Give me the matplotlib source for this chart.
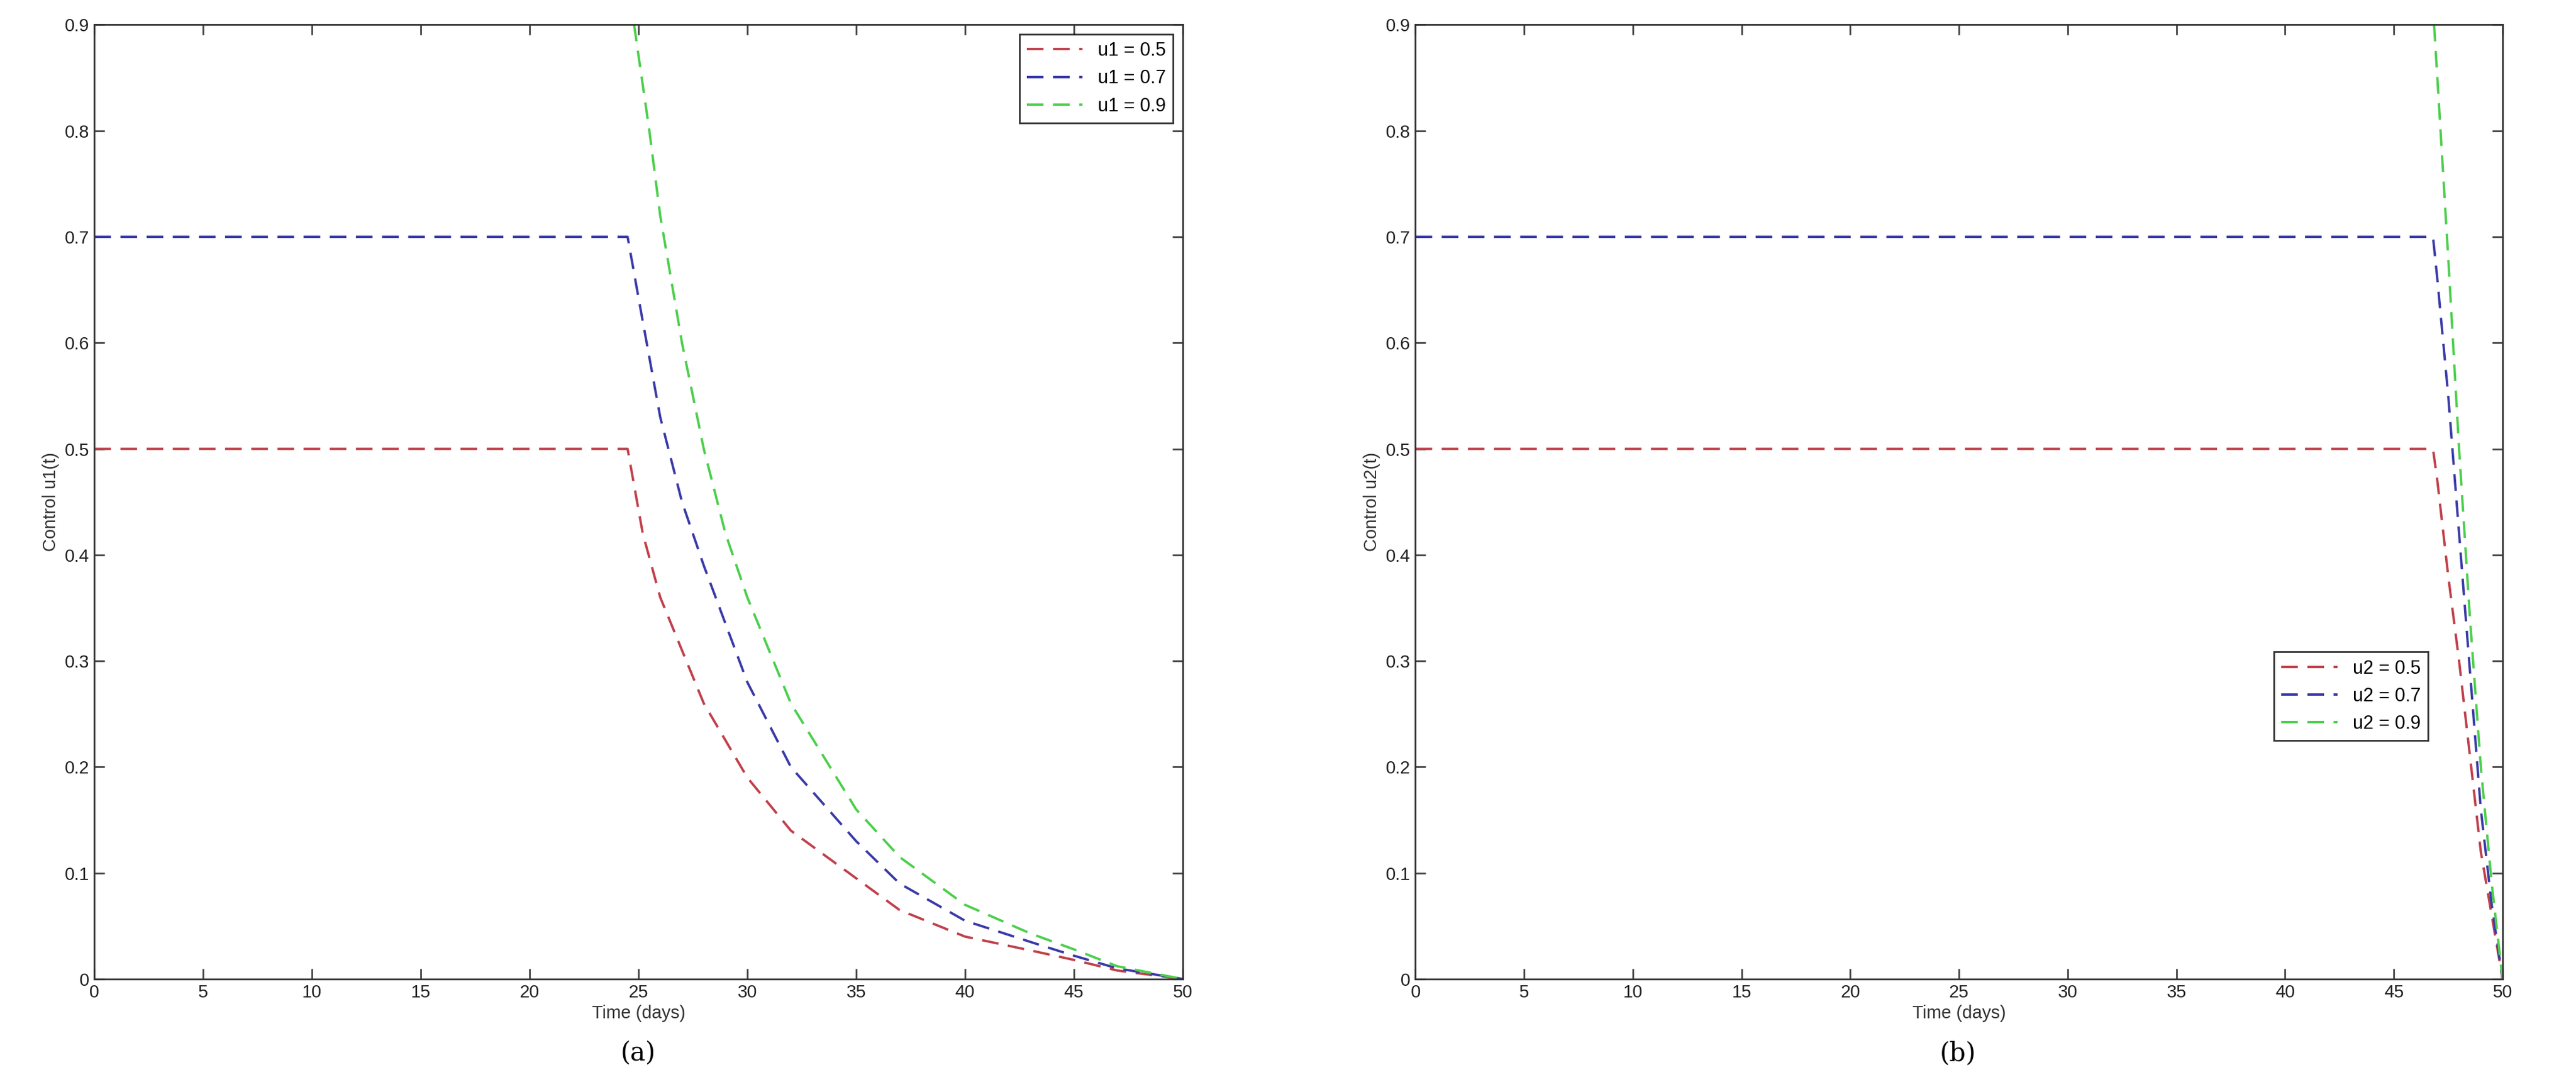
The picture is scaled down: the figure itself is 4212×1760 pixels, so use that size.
import matplotlib
matplotlib.use('Agg')
from matplotlib import pyplot as plt

# Panel (a): control u1(t)
t_a_red = [0, 24.5, 25.2, 26, 27, 28, 30, 32, 35, 37, 40, 43, 45, 47, 50]
u_a_red = [0.5, 0.5, 0.42, 0.36, 0.31, 0.26, 0.19, 0.14, 0.095, 0.065, 0.04, 0.027, 0.018, 0.008, 0.0]
t_a_blue = [0, 24.5, 25.2, 26, 27, 28, 30, 32, 35, 37, 40, 43, 45, 47, 50]
u_a_blue = [0.7, 0.7, 0.62, 0.53, 0.45, 0.39, 0.28, 0.2, 0.13, 0.09, 0.055, 0.035, 0.022, 0.01, 0.0]
t_a_green = [24.8, 25.5, 26, 27, 28, 29, 30, 32, 35, 37, 40, 43, 45, 47, 50]
u_a_green = [0.9, 0.8, 0.72, 0.6, 0.5, 0.42, 0.36, 0.26, 0.16, 0.115, 0.07, 0.043, 0.028, 0.012, 0.0]

# Panel (b): control u2(t)
t_b_red = [0, 46.8, 47.0, 47.5, 48, 48.5, 49, 49.5, 50]
u_b_red = [0.5, 0.5, 0.47, 0.38, 0.3, 0.21, 0.12, 0.06, 0.0]
t_b_blue = [0, 46.8, 47.0, 47.5, 48, 48.5, 49, 49.5, 50]
u_b_blue = [0.7, 0.7, 0.66, 0.55, 0.42, 0.29, 0.16, 0.07, 0.0]
t_b_green = [46.85, 47.0, 47.5, 48, 48.5, 49, 49.5, 50]
u_b_green = [0.9, 0.85, 0.68, 0.5, 0.34, 0.2, 0.09, 0.0]

RED = '#c0404a'
BLUE = '#3a3aa8'
GREEN = '#4ccf4c'
DASH = (0, (7, 4))

plt.rcParams['font.family'] = ['Liberation Sans', 'DejaVu Sans']

fig = plt.figure(figsize=(42.12, 17.6), dpi=100)
ax_a = fig.add_axes([0.0366, 0.091, 0.4225, 0.886])
ax_b = fig.add_axes([0.5495, 0.091, 0.4220, 0.886])


def style_axes(ax, ylabel):
    ax.set_xlim(0, 50)
    ax.set_ylim(0, 0.9)
    ax.set_xticks(range(0, 51, 5))
    ax.set_yticks([i / 10 for i in range(10)])
    ax.set_yticklabels(['0'] + ['%.1f' % (i / 10) for i in range(1, 10)])
    ax.tick_params(direction='in', length=12, width=2, labelsize=21, top=True, right=True,
                   color='#444444', labelcolor='#222222', pad=6)
    for s in ax.spines.values():
        s.set_linewidth(2)
        s.set_color('#333333')
    ax.set_xlabel('Time (days)', fontsize=21, color='#333333', labelpad=4)
    ax.set_ylabel(ylabel, fontsize=21, color='#333333', labelpad=6)


lw = 2.8
ax_a.plot(t_a_red, u_a_red, color=RED, lw=lw, linestyle=DASH, label='u1 = 0.5')
ax_a.plot(t_a_blue, u_a_blue, color=BLUE, lw=lw, linestyle=DASH, label='u1 = 0.7')
ax_a.plot(t_a_green, u_a_green, color=GREEN, lw=lw, linestyle=DASH, label='u1 = 0.9')
style_axes(ax_a, 'Control u1(t)')
leg = ax_a.legend(loc='upper right', fontsize=22, fancybox=False, edgecolor='black', handlelength=3)
leg.get_frame().set_linewidth(2)

ax_b.plot(t_b_red, u_b_red, color=RED, lw=lw, linestyle=DASH, label='u2 = 0.5')
ax_b.plot(t_b_blue, u_b_blue, color=BLUE, lw=lw, linestyle=DASH, label='u2 = 0.7')
ax_b.plot(t_b_green, u_b_green, color=GREEN, lw=lw, linestyle=DASH, label='u2 = 0.9')
style_axes(ax_b, 'Control u2(t)')
leg = ax_b.legend(loc='lower right', bbox_to_anchor=(0.94, 0.24), fontsize=22, fancybox=False,
                  edgecolor='black', handlelength=3)
leg.get_frame().set_linewidth(2)

fig.text(0.2478, 0.022, '(a)', ha='center', va='center', fontsize=30, family='DejaVu Serif')
fig.text(0.7600, 0.022, '(b)', ha='center', va='center', fontsize=30, family='DejaVu Serif')

fig.savefig('out.png', dpi=100)
